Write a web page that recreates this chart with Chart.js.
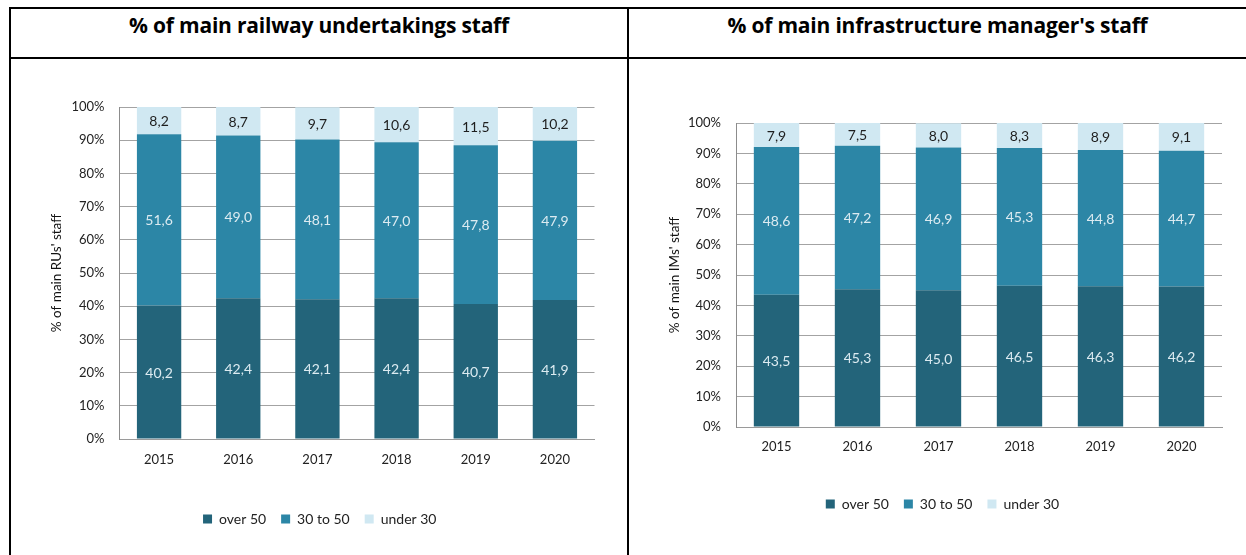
<!DOCTYPE html>
<html>
<head>
<meta charset="utf-8">
<script src="https://cdn.jsdelivr.net/npm/chart.js@4/dist/chart.umd.min.js"></script>
<style>
  html, body { margin: 0; padding: 0; background: #fff; }
  body { width: 1246px; height: 555px; position: relative; overflow: hidden; }
  .line { position: absolute; background: #000; }
  .title { position: absolute; top: 9px; height: 48px; line-height: 32px; text-align: center;
           font-family: "Open Sans", sans-serif; font-weight: 700; font-size: 21px; color: #000; letter-spacing: -0.2px; }
  canvas { position: absolute; }
</style>
</head>
<body>
<div class="line" style="left:9px; top:7px; width:1237px; height:2px;"></div>
<div class="line" style="left:9px; top:57px; width:1237px; height:2px;"></div>
<div class="line" style="left:9px; top:7px; width:2px; height:548px;"></div>
<div class="line" style="left:627px; top:7px; width:2px; height:548px;"></div>
<div class="title" style="left:11px; width:616px;">% of main railway undertakings staff</div>
<div class="title" style="left:629px; width:617px;">% of main infrastructure manager's staff</div>
<canvas id="c1" width="614" height="493" style="left:12px; top:60px;"></canvas>
<canvas id="c2" width="614" height="493" style="left:630px; top:60px;"></canvas>
<script>
// ---- Data ----
const years = ["2015", "2016", "2017", "2018", "2019", "2020"];
const seriesNames = ["over 50", "30 to 50", "under 30"];

const ruOver50  = [40.2, 42.4, 42.1, 42.4, 40.7, 41.9];
const ru30to50  = [51.6, 49.0, 48.1, 47.0, 47.8, 47.9];
const ruUnder30 = [8.2, 8.7, 9.7, 10.6, 11.5, 10.2];

const imOver50  = [43.5, 45.3, 45.0, 46.5, 46.3, 46.2];
const im30to50  = [48.6, 47.2, 46.9, 45.3, 44.8, 44.7];
const imUnder30 = [7.9, 7.5, 8.0, 8.3, 8.9, 9.1];

const yTicks = [0, 10, 20, 30, 40, 50, 60, 70, 80, 90, 100];

// ---- Styles ----
const colors = ["#23647A", "#2C86A6", "#D0E8F2"];
const labelColors = ["#DCEBF1", "#DCEBF1", "#1E1E1E"];
const FONT = "Lato, 'Open Sans', sans-serif";

const valueLabels = {
  id: "valueLabels",
  afterDatasetsDraw(chart) {
    const ctx = chart.ctx;
    ctx.save();
    ctx.font = "14px " + FONT;
    ctx.textAlign = "center";
    ctx.textBaseline = "middle";
    chart.data.datasets.forEach((ds, di) => {
      const meta = chart.getDatasetMeta(di);
      meta.data.forEach((el, i) => {
        const v = ds.data[i];
        const p = el.getProps(["x", "y", "base"], true);
        const top = Math.max(p.y, chart.chartArea.top);
        ctx.fillStyle = labelColors[di];
        ctx.fillText(v.toFixed(1).replace(".", ","), p.x, (top + p.base) / 2 + 1);
      });
    });
    ctx.restore();
  }
};

function makeChart(id, d0, d1, d2, yTitle, L, yW, padTop, padRight, padBottom, xH, xPad) {
  const data = [d0, d1, d2];
  return new Chart(document.getElementById(id), {
    type: "bar",
    data: {
      labels: years,
      datasets: seriesNames.map((n, i) => ({
        label: n,
        data: data[i],
        backgroundColor: colors[i],
        borderWidth: 0,
        categoryPercentage: 1.0,
        barPercentage: 0.56
      }))
    },
    options: {
      responsive: false,
      animation: false,
      devicePixelRatio: 1,
      layout: { padding: { left: L, top: padTop, right: padRight, bottom: padBottom } },
      plugins: {
        legend: {
          position: "bottom",
          labels: {
            boxWidth: 9, boxHeight: 9, padding: 15,
            color: "#222", font: { family: FONT, size: 14 }
          }
        },
        tooltip: { enabled: false },
        title: { display: false }
      },
      scales: {
        x: {
          stacked: true,
          grid: { display: false, drawTicks: false },
          border: { display: true, color: "#9A9A9A", width: 1 },
          ticks: { color: "#222", font: { family: FONT, size: 13 }, padding: xPad },
          afterFit(s) { s.height = xH; }
        },
        y: {
          stacked: true,
          min: 0, max: 100,
          afterBuildTicks(s) { s.ticks = yTicks.map(v => ({ value: v })); },
          grid: { color: "#A3A3A3", lineWidth: 1, drawTicks: false },
          border: { display: true, color: "#8C8C8C", width: 1 },
          ticks: {
            color: "#222", font: { family: FONT, size: 13 }, padding: 15,
            callback: v => v + "%"
          },
          title: {
            display: true, text: yTitle, color: "#111",
            font: { family: FONT, size: 13.5 }, padding: { top: 4, bottom: 0 }
          },
          afterFit(s) { s.width = yW; }
        }
      }
    },
    plugins: [valueLabels]
  });
}

makeChart("c1", ruOver50, ru30to50, ruUnder30, "% of main RUs' staff", 33, 74.5, 47, 31.5, 17, 58, 13);
makeChart("c2", imOver50, im30to50, imUnder30, "% of main IMs' staff", 33, 73, 63, 22, 32, 55, 12);
</script>
</body>
</html>
